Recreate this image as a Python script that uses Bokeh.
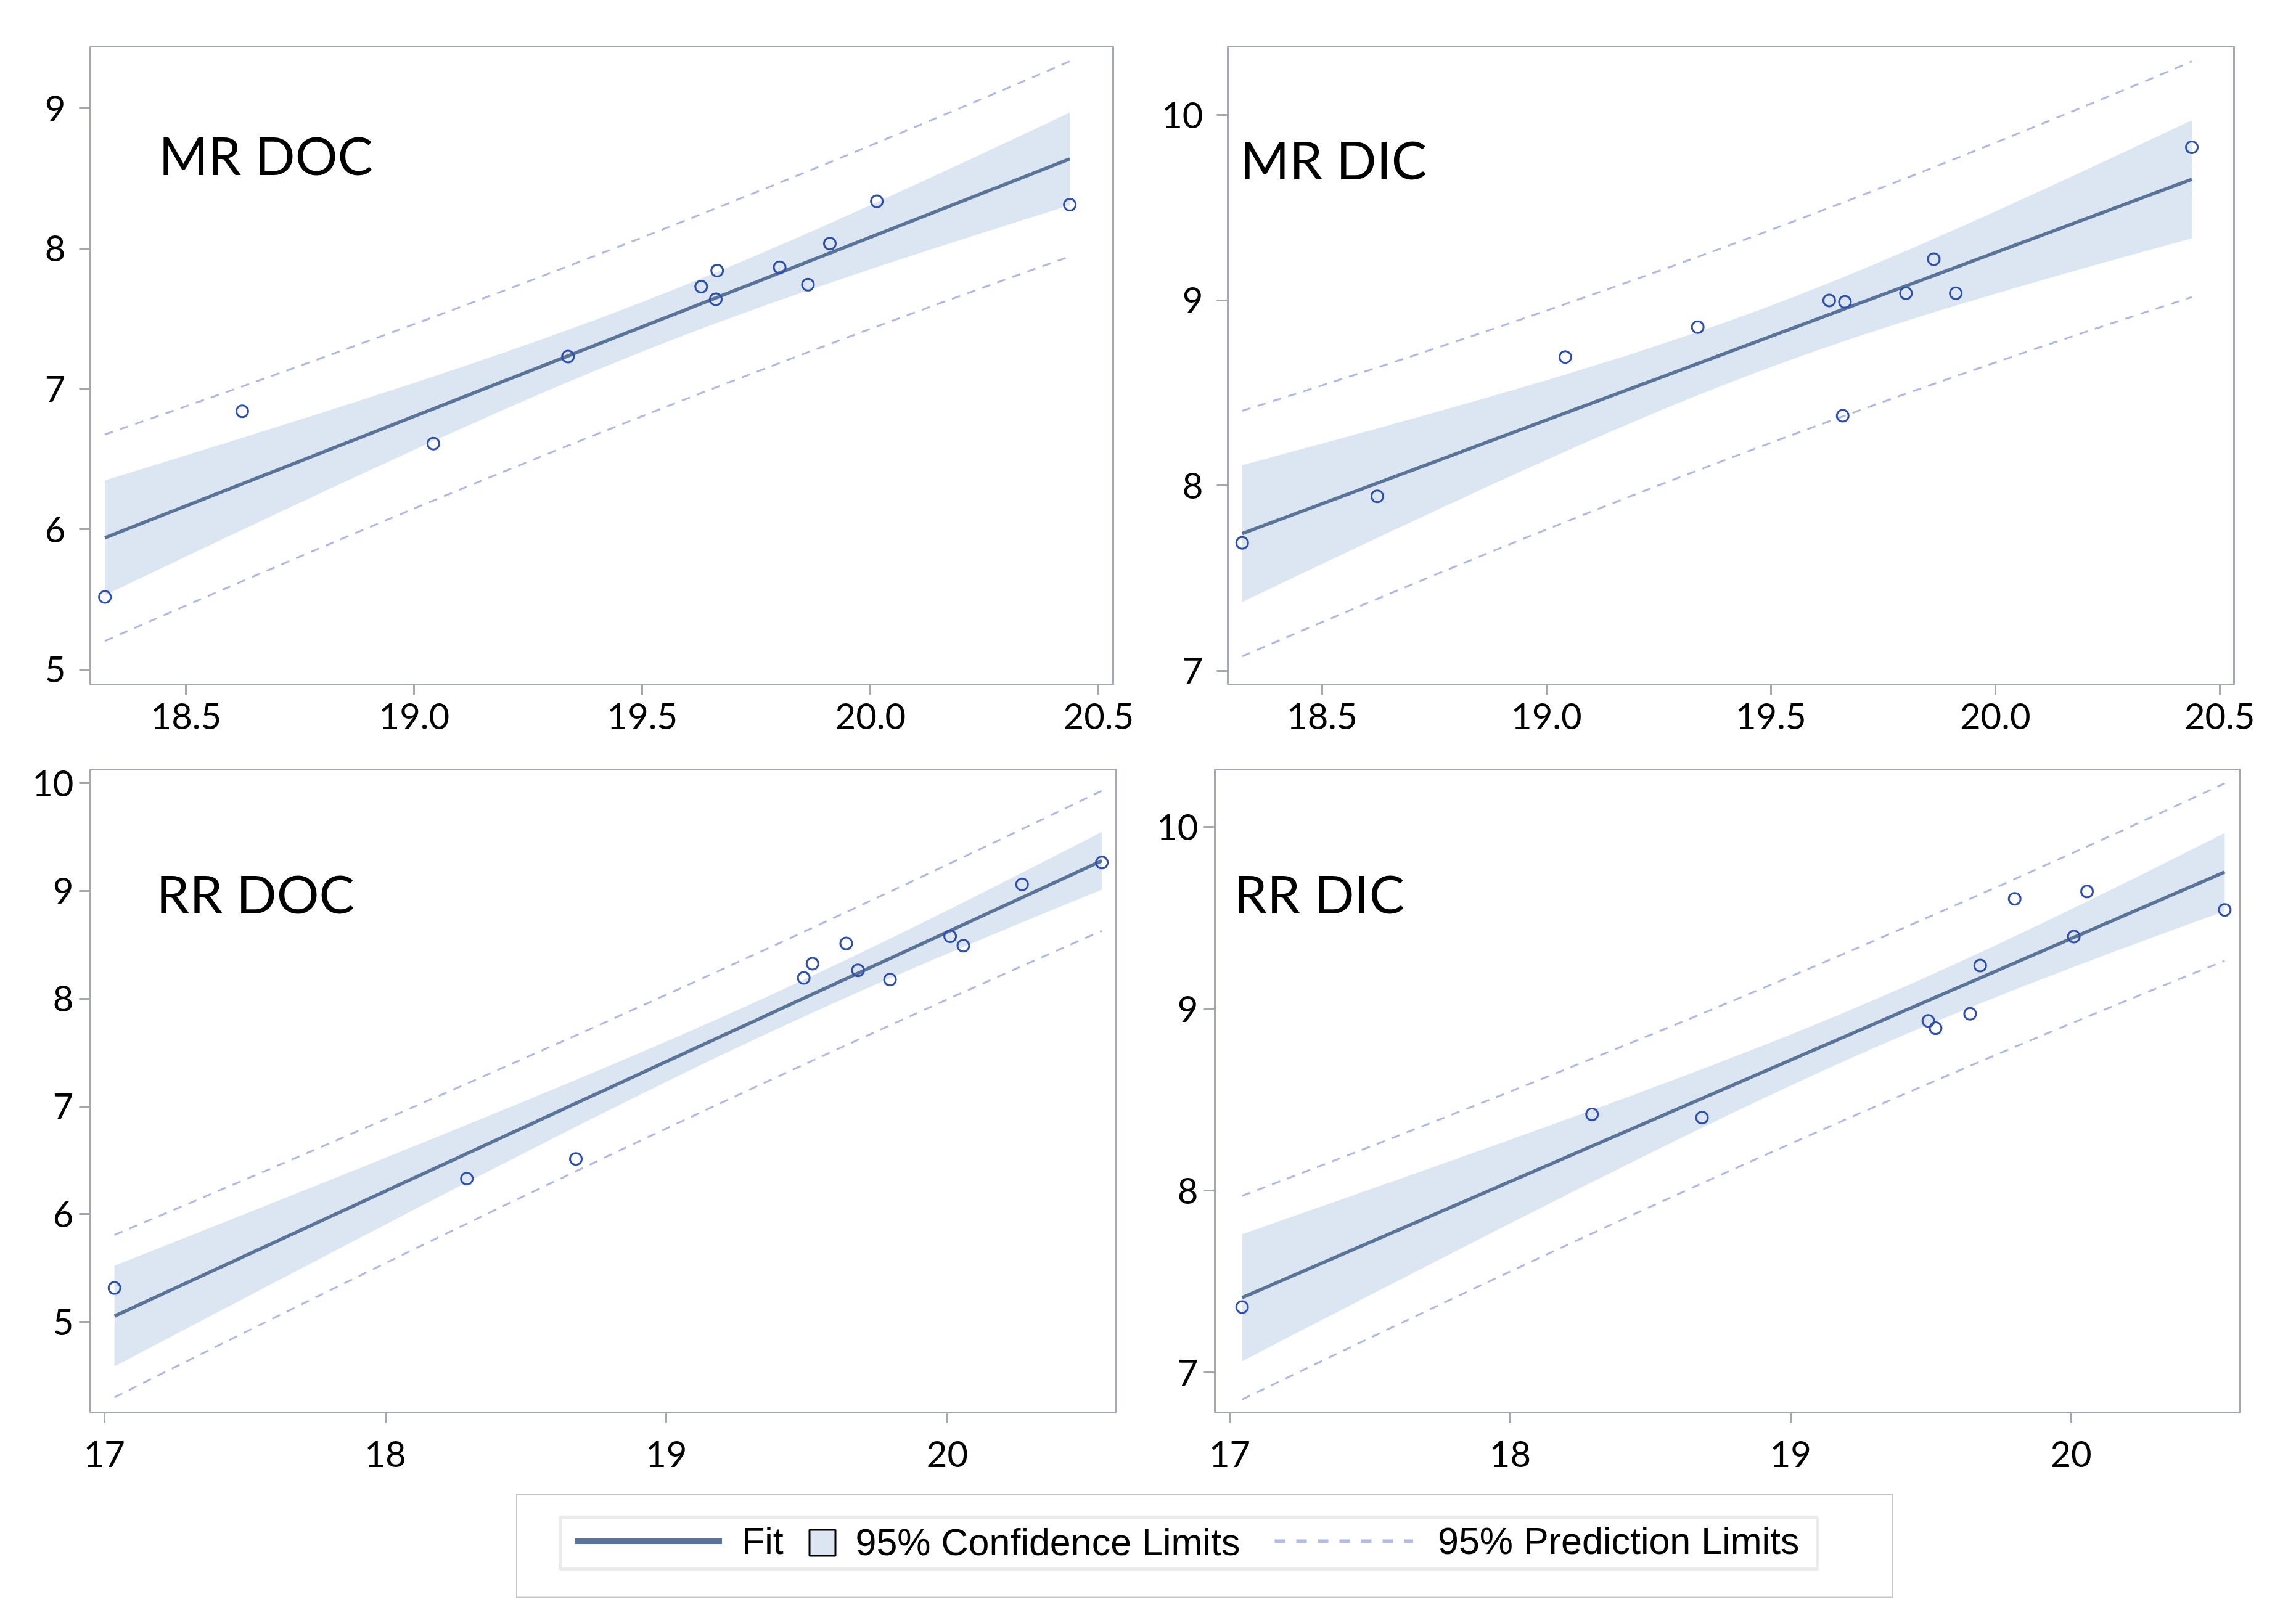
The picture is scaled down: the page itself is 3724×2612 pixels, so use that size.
import numpy as np
from bokeh.plotting import figure
from bokeh.layouts import column, row
from bokeh.models import (Range1d, FixedTicker, NumeralTickFormatter, Label, Legend,
                          LegendItem, BoxAnnotation, Spacer)
from bokeh.embed import file_html
from bokeh.resources import INLINE

# ---------------- data ----------------
mr_doc_x = [18.322, 18.623, 19.042, 19.337, 19.629, 19.664, 19.661, 19.801, 19.863, 19.911, 20.014, 20.437]
mr_doc_y = [5.518, 6.841, 6.610, 7.231, 7.729, 7.843, 7.639, 7.867, 7.743, 8.036, 8.337, 8.313]

mr_dic_x = [18.322, 18.623, 19.042, 19.337, 19.630, 19.665, 19.660, 19.801, 19.863, 19.912, 20.438]
mr_dic_y = [7.691, 7.942, 8.694, 8.856, 9.000, 8.992, 8.377, 9.039, 9.223, 9.039, 9.827]

rr_doc_x = [17.036, 18.290, 18.678, 19.489, 19.520, 19.640, 19.682, 19.796, 20.010, 20.057, 20.266, 20.550]
rr_doc_y = [5.315, 6.330, 6.513, 8.193, 8.325, 8.513, 8.264, 8.178, 8.579, 8.492, 9.061, 9.264]

rr_dic_x = [17.044, 18.292, 18.684, 19.491, 19.517, 19.640, 19.676, 19.799, 20.010, 20.057, 20.548]
rr_dic_y = [7.360, 8.420, 8.402, 8.934, 8.894, 8.973, 9.239, 9.606, 9.398, 9.646, 9.545]

mr_x_ticks = [18.5, 19.0, 19.5, 20.0, 20.5]
rr_x_ticks = [17, 18, 19, 20]
mr_doc_y_ticks = [5, 6, 7, 8, 9]
mr_dic_y_ticks = [7, 8, 9, 10]
rr_doc_y_ticks = [5, 6, 7, 8, 9, 10]
rr_dic_y_ticks = [7, 8, 9, 10]

legend_labels = ["Fit", "95% Confidence Limits", "95% Prediction Limits"]

# two-sided 95% Student t quantiles by degrees of freedom
T95 = {9: 2.262, 10: 2.228}

# ---------------- styles ----------------
FRAME = "#A4A8AE"
FIT = "#5A7399"
CI = "#DCE6F2"
PI = "#B0B8E4"
MK = "#2F4FAE"
FONT = "Lato"


def regression(x, y, n_grid=160):
    x = np.asarray(x, dtype=float)
    y = np.asarray(y, dtype=float)
    n = len(x)
    b1, b0 = np.polyfit(x, y, 1)
    resid = y - (b0 + b1 * x)
    s = np.sqrt(np.sum(resid ** 2) / (n - 2))
    xm = x.mean()
    sxx = np.sum((x - xm) ** 2)
    xg = np.linspace(x.min(), x.max(), n_grid)
    yg = b0 + b1 * xg
    h = np.sqrt(1.0 / n + (xg - xm) ** 2 / sxx)
    t = T95[n - 2]
    return dict(x=xg, fit=yg,
                cil=yg - t * s * h, ciu=yg + t * s * h,
                pil=yg - t * s * np.sqrt(1 + h ** 2), piu=yg + t * s * np.sqrt(1 + h ** 2))


def panel(x, y, name, lx, ly, xr, yr, xticks, yticks, xfmt,
          width, height, bl, br, bt, bb, xstand, ystand):
    p = figure(width=width, height=height, x_range=Range1d(*xr), y_range=Range1d(*yr),
               output_backend="svg", toolbar_location=None,
               min_border_left=bl, min_border_right=br, min_border_top=bt, min_border_bottom=bb)
    p.grid.visible = False
    p.background_fill_color = "white"
    p.border_fill_color = "white"
    p.outline_line_color = FRAME
    p.outline_line_width = 3
    p.outline_line_alpha = 1

    r = regression(x, y)
    p.varea(x=r["x"], y1=r["cil"], y2=r["ciu"], fill_color=CI, fill_alpha=1)
    p.line(r["x"], r["piu"], line_color=PI, line_width=3, line_dash="14 12")
    p.line(r["x"], r["pil"], line_color=PI, line_width=3, line_dash="14 12")
    p.line(r["x"], r["fit"], line_color=FIT, line_width=5.5)
    p.scatter(x, y, marker="circle", size=19, fill_color=None, line_color=MK, line_width=3)

    p.add_layout(Label(x=lx, y=ly, text=name, text_font=FONT, text_font_size="86px",
                       text_color="black", text_baseline="alphabetic", text_align="left"))

    for ax in list(p.xaxis) + list(p.yaxis):
        ax.axis_line_color = None
        ax.major_tick_line_color = FRAME
        ax.major_tick_line_width = 3
        ax.major_tick_in = 0
        ax.minor_tick_line_color = None
        ax.major_label_text_font = FONT
        ax.major_label_text_font_size = "58px"
        ax.major_label_text_color = "black"
    p.xaxis.ticker = FixedTicker(ticks=xticks)
    p.yaxis.ticker = FixedTicker(ticks=yticks)
    p.xaxis.formatter = NumeralTickFormatter(format=xfmt)
    p.yaxis.formatter = NumeralTickFormatter(format="0")
    p.xaxis.major_tick_out = 17
    p.xaxis.major_label_standoff = xstand
    p.yaxis.major_tick_out = 18
    p.yaxis.major_label_standoff = ystand
    return p


p_tl = panel(mr_doc_x, mr_doc_y, "MR DOC", 18.44, 8.673, (18.29, 20.532), (4.894, 9.44),
             mr_x_ticks, mr_doc_y_ticks, "0.0", 1854, 1226, 146, 49, 61, 116, 13, 22)
p_tr = panel(mr_dic_x, mr_dic_y, "MR DIC", 18.3175, 9.766, (18.29, 20.532), (6.926, 10.371),
             mr_x_ticks, mr_dic_y_ticks, "0.0", 1854, 1226, 137, 85, 75, 102, 13, 22)
p_bl = panel(rr_doc_x, rr_doc_y, "RR DOC", 17.185, 8.980, (16.95, 20.599), (4.160, 10.127),
             rr_x_ticks, rr_doc_y_ticks, "0", 1854, 1198, 146, 45, 7, 133, 29, 9)
p_br = panel(rr_dic_x, rr_dic_y, "RR DIC", 17.015, 9.638, (16.947, 20.601), (6.78, 10.317),
             rr_x_ticks, rr_dic_y_ticks, "0", 1854, 1198, 116, 76, 22, 133, 29, 9)

# ---------------- legend ----------------
LW, LH = 2233, 168
lg = figure(width=LW, height=LH, x_range=Range1d(0, LW), y_range=Range1d(0, LH),
            x_axis_type=None, y_axis_type=None, output_backend="svg", toolbar_location=None,
            min_border=0)
lg.grid.visible = False
lg.outline_line_color = "#C6C6C6"
lg.outline_line_width = 2
lg.background_fill_color = "white"

# legend proxies: one undefined (NaN) point each, so nothing is drawn in the frame
nan_src = [float("nan")]
r_fit = lg.line(x=nan_src, y=nan_src, line_color=FIT, line_width=9)
r_ci = lg.scatter(x=nan_src, y=nan_src, marker="square", fill_color=CI, line_color="black",
                  line_width=3)
r_pi = lg.line(x=nan_src, y=nan_src, line_color=PI, line_width=6, line_dash="17 18")

lg.add_layout(BoxAnnotation(left=71, right=2110, bottom=47, top=131, fill_color=None,
                            line_color="#BEBEBE", line_width=5))


def make_legend(label, rend, loc, gw, gh, standoff):
    return Legend(items=[LegendItem(label=label, renderers=[rend], index=0)], location=loc,
                  orientation="horizontal", glyph_width=gw, glyph_height=gh, label_height=gh,
                  label_standoff=standoff, padding=0, margin=0, spacing=0,
                  border_line_color=None, background_fill_alpha=0,
                  label_text_font="Liberation Sans", label_text_font_size="61px",
                  label_text_color="black")


lg.add_layout(make_legend(legend_labels[0], r_fit, (95, 57), 239, 66, 32))
lg.add_layout(make_legend(legend_labels[1], r_ci, (443.5, 37.5), 105, 105, 2))
lg.add_layout(make_legend(legend_labels[2], r_pi, (1230, 57), 225, 66, 40))

layout = column(row(p_tl, p_tr), row(p_bl, p_br), row(Spacer(width=837, height=LH), lg))

open("out.html", "w").write(file_html(layout, INLINE))
